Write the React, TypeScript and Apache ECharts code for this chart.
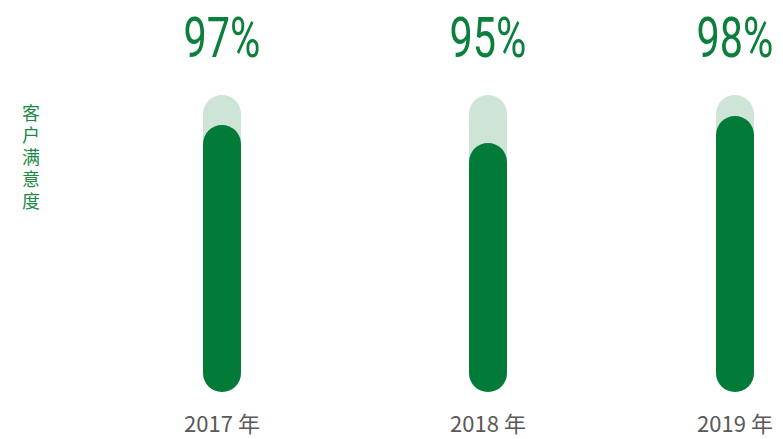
import React, { useEffect, useRef } from "react";
import * as echarts from "echarts";

const categories = ["2017 年", "2018 年", "2019 年"];
const satisfaction = [97, 95, 98];
const axisName = "客户满意度";

const AXIS_MIN = 67.33;
const AXIS_MAX = 100.33;
const centers = [222, 488, 737];
const GRID_W = 100;

export default function App() {
  const ref = useRef<HTMLDivElement>(null);
  useEffect(() => {
    const chart = echarts.init(ref.current!, null, { renderer: "svg" });
    const grids = centers.map((c) => ({
      left: c - GRID_W / 2,
      width: GRID_W,
      top: 95,
      bottom: 47,
      containLabel: false,
    }));
    const xAxis = categories.map((cat, i) => ({
      type: "category" as const,
      gridIndex: i,
      data: [cat],
      axisLine: { show: false },
      axisTick: { show: false },
      axisLabel: {
        margin: 19,
        fontSize: 22,
        color: "#595959",
        fontFamily: "Noto Sans CJK SC",
      },
    }));
    const yAxis = categories.map((_, i) => ({
      type: "value" as const,
      gridIndex: i,
      min: AXIS_MIN,
      max: AXIS_MAX,
      show: false,
    }));
    const series: any[] = [];
    categories.forEach((_, i) => {
      series.push({
        type: "bar",
        xAxisIndex: i,
        yAxisIndex: i,
        barWidth: 38,
        data: [AXIS_MAX],
        itemStyle: { color: "#cde4d7", borderRadius: 19 },
        silent: true,
      });
      series.push({
        type: "bar",
        xAxisIndex: i,
        yAxisIndex: i,
        barWidth: 38,
        barGap: "-100%",
        data: [satisfaction[i]],
        itemStyle: { color: "#037b38", borderRadius: 19 },
      });
      series.push({
        type: "custom",
        xAxisIndex: i,
        yAxisIndex: i,
        data: [[0, AXIS_MAX]],
        silent: true,
        renderItem: (params: any, api: any) => {
          const p = api.coord([api.value(0), api.value(1)]);
          return {
            type: "text",
            x: p[0],
            y: p[1] - 57,
            scaleX: 0.74,
            style: {
              text: satisfaction[i] + "%",
              fontSize: 56,
              fontFamily: "Roboto",
              fontWeight: 400,
              fill: "#0b7f3c",
              align: "center",
              verticalAlign: "middle",
            },
          };
        },
      });
    });
    chart.setOption({
      animation: false,
      title: {
        text: axisName.split("").join("\n"),
        left: 17,
        top: 96,
        textStyle: {
          fontSize: 18,
          lineHeight: 22,
          fontWeight: "normal",
          color: "#1a8a45",
          fontFamily: "Noto Sans CJK SC",
        },
      },
      grid: grids,
      xAxis,
      yAxis,
      series,
    });
    return () => chart.dispose();
  }, []);
  return <div ref={ref} style={{ width: 783, height: 439, position: "absolute", left: 0, top: 0 }} />;
}
